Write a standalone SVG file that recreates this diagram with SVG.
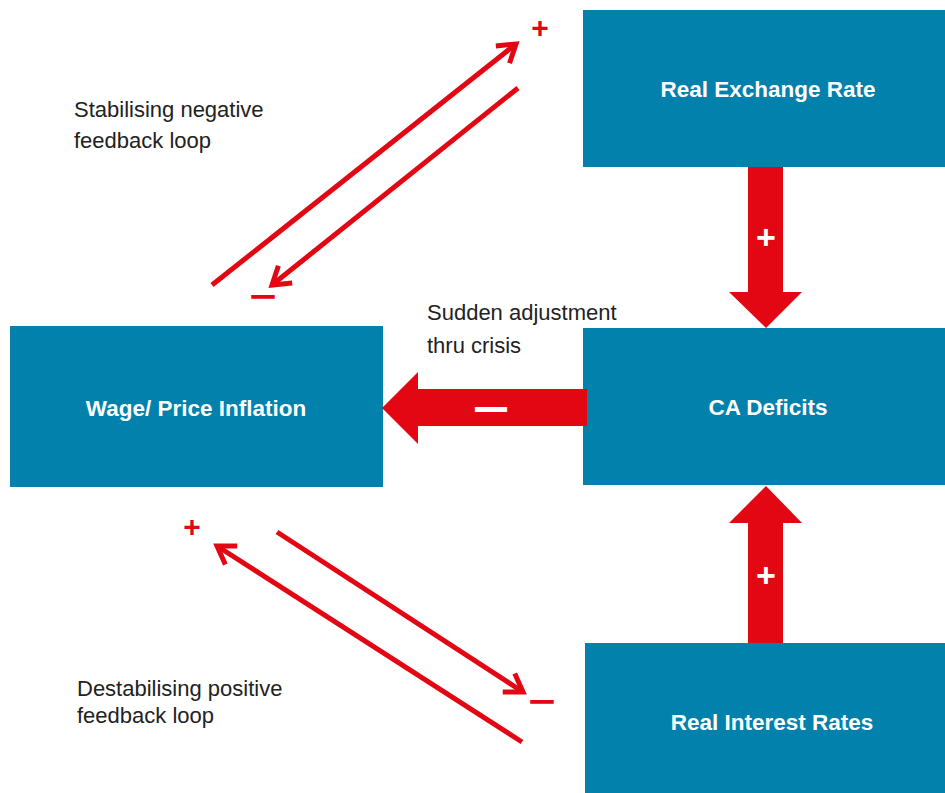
<svg xmlns="http://www.w3.org/2000/svg" width="945" height="793" viewBox="0 0 945 793">
<style>
.box{fill:#0381AD}
.lbl{font-family:"Liberation Sans",Arial,sans-serif;font-weight:bold;font-size:22.5px;fill:#fff;text-anchor:middle}
.note{font-family:"Liberation Sans",Arial,sans-serif;font-size:22px;fill:#222}
.blk{fill:#E30613}
.ln{stroke:#E30613;stroke-width:5;fill:none;marker-end:url(#ah)}
.sgn{font-family:"Liberation Sans",Arial,sans-serif;font-weight:bold;fill:#E30613;text-anchor:middle}
.wsg{font-family:"Liberation Sans",Arial,sans-serif;font-weight:bold;fill:#fff;text-anchor:middle}
</style>
<defs>
<marker id="ah" markerUnits="userSpaceOnUse" markerWidth="40" markerHeight="40" refX="0" refY="0" orient="auto" viewBox="-25 -20 40 40" overflow="visible">
<path d="M-17,-11 L0,0 L-17,11" fill="none" stroke="#E30613" stroke-width="5"/>
</marker>
</defs>
<rect width="945" height="793" fill="#fff"/>
<g id="node-rer"><rect class="box" x="583" y="10" width="362" height="157"/><text class="lbl" x="768" y="97">Real Exchange Rate</text></g>
<g id="node-ca"><rect class="box" x="583" y="328" width="362" height="157"/><text class="lbl" x="768" y="415">CA Deficits</text></g>
<g id="node-rir"><rect class="box" x="585" y="643" width="360" height="150"/><text class="lbl" x="772" y="730">Real Interest Rates</text></g>
<g id="node-wpi"><rect class="box" x="10" y="326" width="373" height="161"/><text class="lbl" x="196" y="416">Wage/ Price Inflation</text></g>
<g id="connectors">
<polygon class="blk" points="748,167 783,167 783,292 802,292 766,328 729,292 748,292"/>
<text class="wsg" x="766" y="249" font-size="34">+</text>
<polygon class="blk" points="748,643 783,643 783,523 802,523 766,486 729,523 748,523"/>
<text class="wsg" x="766" y="587" font-size="34">+</text>
<polygon class="blk" points="587,389 418,389 418,372 382,408 418,444 418,426 587,426"/>
<text class="wsg" x="491" y="418" font-size="30" stroke="#fff" stroke-width="2">—</text>
<line class="ln" x1="212" y1="285" x2="516" y2="44"/>
<line class="ln" x1="518" y1="88" x2="272" y2="285"/>
<line class="ln" x1="277" y1="532" x2="523" y2="692"/>
<line class="ln" x1="522" y1="742" x2="217" y2="546"/>
<text class="sgn" x="540" y="38" font-size="30">+</text>
<text class="sgn" x="263" y="303" font-size="22" stroke="#E30613" stroke-width="1.5">—</text>
<text class="sgn" x="192" y="537" font-size="30">+</text>
<text class="sgn" x="542" y="708" font-size="22" stroke="#E30613" stroke-width="1.5">—</text>
</g>
<g id="notes">
<text class="note" x="74" y="117">Stabilising negative</text>
<text class="note" x="74" y="148">feedback loop</text>
<text class="note" x="427" y="320">Sudden adjustment</text>
<text class="note" x="427" y="353">thru crisis</text>
<text class="note" x="77" y="696">Destabilising positive</text>
<text class="note" x="77" y="723">feedback loop</text>
</g>
</svg>
